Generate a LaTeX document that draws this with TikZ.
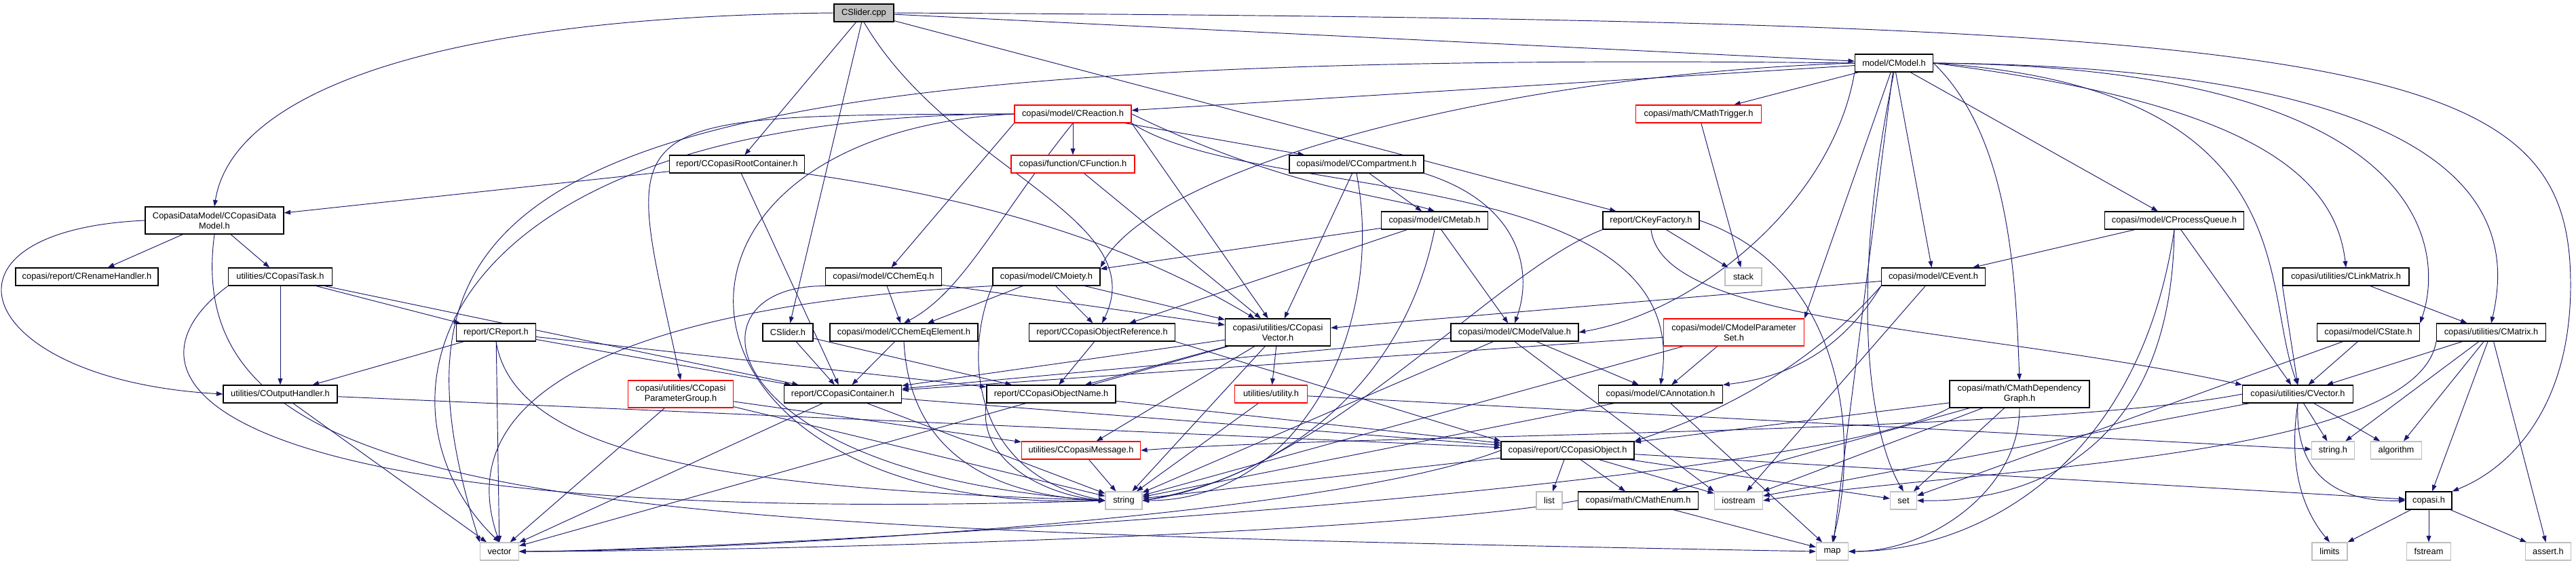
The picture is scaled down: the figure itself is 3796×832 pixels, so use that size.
\documentclass[tikz,border=0pt]{standalone}
\usepackage{fontspec}
\setmainfont{Liberation Sans}
\usepackage{tikz}
\usetikzlibrary{arrows.meta, backgrounds}
\definecolor{edgeBlue}{HTML}{191970}
\definecolor{sysGray}{HTML}{BFBFBF}
\newlength{\dpx}
\setlength{\dpx}{0.026cm}

\begin{document}
\begin{tikzpicture}[
        x=0.026cm, y=-0.026cm,
        hdr/.style={draw=black, fill=white, line width=0.9pt, inner sep=0pt, align=center,
            minimum height=26\dpx, font=\fontsize{9.5}{11}\selectfont},
        wd/.style={minimum width=#1\dpx},
        tall/.style={minimum height=40\dpx},
        sys/.style={draw=sysGray},
        trunc/.style={draw=red},
        src/.style={fill=sysGray},
        dep/.style={-{Triangle[length=7pt, width=5pt]}, edgeBlue, line width=0.7pt}
    ]
        \useasboundingbox (0,0) rectangle (3796,832);
        \node[hdr, src, wd=88] (cpp) at (1273,19) {CSlider.cpp};
        \node[hdr, wd=204, tall] (dm) at (316,325) {CopasiDataModel/CCopasiData\\Model.h};
        \node[hdr, wd=210] (rename) at (128,408) {copasi/report/CRenameHandler.h};
        \node[hdr, wd=153] (task) at (413,408) {utilities/CCopasiTask.h};
        \node[hdr, wd=117] (report) at (731,490) {report/CReport.h};
        \node[hdr, wd=168] (outh) at (413,581) {utilities/COutputHandler.h};
        \node[hdr, sys, wd=57] (vector) at (736,813) {vector};
        \node[hdr, wd=199] (root) at (1086,242) {report/CCopasiRootContainer.h};
        \node[hdr, trunc, wd=172] (reac) at (1581,168) {copasi/model/CReaction.h};
        \node[hdr, trunc, wd=182] (func) at (1581,242) {copasi/function/CFunction.h};
        \node[hdr, wd=171] (chemeq) at (1302,408) {copasi/model/CChemEq.h};
        \node[hdr, wd=158] (moiety) at (1542,408) {copasi/model/CMoiety.h};
        \node[hdr, wd=74] (sliderh) at (1161,490) {CSlider.h};
        \node[hdr, wd=218] (cee) at (1332,490) {copasi/model/CChemEqElement.h};
        \node[hdr, wd=215] (objref) at (1624,490) {report/CCopasiObjectReference.h};
        \node[hdr, wd=155, tall] (cvec) at (1883,490) {copasi/utilities/CCopasi\\Vector.h};
        \node[hdr, trunc, wd=155, tall] (pgroup) at (1003,581) {copasi/utilities/CCopasi\\ParameterGroup.h};
        \node[hdr, wd=173] (cont) at (1242,581) {report/CCopasiContainer.h};
        \node[hdr, wd=190] (oname) at (1549,581) {report/CCopasiObjectName.h};
        \node[hdr, trunc, wd=107] (util) at (1873,581) {utilities/utility.h};
        \node[hdr, trunc, wd=175] (msg) at (1593,664) {utilities/CCopasiMessage.h};
        \node[hdr, sys, wd=54] (string) at (1656,738) {string};
        \node[hdr, wd=115] (model) at (2791,93) {model/CModel.h};
        \node[hdr, trunc, wd=185] (trig) at (2503,168) {copasi/math/CMathTrigger.h};
        \node[hdr, wd=198] (comp) at (1999,242) {copasi/model/CCompartment.h};
        \node[hdr, wd=157] (metab) at (2114,325) {copasi/model/CMetab.h};
        \node[hdr, wd=142] (keyf) at (2433,325) {report/CKeyFactory.h};
        \node[hdr, sys, wd=54] (stack) at (2569,408) {stack};
        \node[hdr, wd=153] (event) at (2849,408) {copasi/model/CEvent.h};
        \node[hdr, wd=188] (mval) at (2232,490) {copasi/model/CModelValue.h};
        \node[hdr, trunc, wd=207, tall] (mpset) at (2555,490) {copasi/model/CModelParameter\\Set.h};
        \node[hdr, wd=183] (annot) at (2447,581) {copasi/model/CAnnotation.h};
        \node[hdr, wd=196] (cobj) at (2310,664) {copasi/report/CCopasiObject.h};
        \node[hdr, sys, wd=38] (list) at (2283,738) {list};
        \node[hdr, wd=177] (menum) at (2414,738) {copasi/math/CMathEnum.h};
        \node[hdr, sys, wd=71] (iostream) at (2562,738) {iostream};
        \node[hdr, sys, wd=39] (set) at (2805,738) {set};
        \node[hdr, sys, wd=47] (map) at (2700,813) {map};
        \node[hdr, wd=205] (pqueue) at (3204,325) {copasi/model/CProcessQueue.h};
        \node[hdr, wd=186] (linkm) at (3457,408) {copasi/utilities/CLinkMatrix.h};
        \node[hdr, wd=206, tall] (depg) at (2976,581) {copasi/math/CMathDependency\\Graph.h};
        \node[hdr, wd=151] (state) at (3490,490) {copasi/model/CState.h};
        \node[hdr, wd=161] (matrix) at (3671,490) {copasi/utilities/CMatrix.h};
        \node[hdr, wd=163] (cvector) at (3386,581) {copasi/utilities/CVector.h};
        \node[hdr, sys, wd=63] (stringh) at (3438,664) {string.h};
        \node[hdr, sys, wd=75] (algo) at (3531,664) {algorithm};
        \node[hdr, wd=68] (copasih) at (3579,738) {copasi.h};
        \node[hdr, sys, wd=52] (limits) at (3433,813) {limits};
        \node[hdr, sys, wd=65] (fstream) at (3579,813) {fstream};
        \node[hdr, sys, wd=67] (assert) at (3755,813) {assert.h};
        \coordinate (rbend) at (3788,420);

        \begin{scope}[on background layer]
        \fill[white] (0,0) rectangle (3796,832);
        \draw[dep] (cpp.west) .. controls (600,25) and (340,150) .. (dm.north);
        \draw[dep] (cpp) -- (root); \draw[dep] (cpp) -- (sliderh); \draw[dep] (cpp) -- (model); \draw[dep] (cpp) -- (keyf);
        \draw[dep] (cpp.south) .. controls (1400,250) and (1700,320) .. (objref.north);
        \draw[dep] (cpp.east) .. controls (3500,30) and (3788,80) .. (rbend) .. controls (3788,600) and (3700,690) .. (copasih.north east);

        \draw[dep] (dm) -- (rename); \draw[dep] (dm) -- (task);
        \draw[dep] (dm.west) .. controls (-120,340) and (-40,560) .. (outh.west);
        \draw[dep] (dm.south) .. controls (260,760) and (900,780) .. (map.west);
        \draw[dep] (root) -- (dm); \draw[dep] (root) -- (cont);
        \draw[dep] (root) .. controls (1500,300) and (1700,380) .. (cvec);

        \draw[dep] (task) -- (outh); \draw[dep] (task) -- (report); \draw[dep] (task) -- (cont);
        \draw[dep] (task.south west) .. controls (150,560) and (300,780) .. (string.west);
        \draw[dep] (report) -- (outh); \draw[dep] (report) -- (vector); \draw[dep] (report) -- (cont); \draw[dep] (report) -- (oname);
        \draw[dep] (report.south) .. controls (760,680) and (1100,720) .. (string.west);
        \draw[dep] (outh) -- (vector); \draw[dep] (outh) -- (cobj);

        \draw[dep] (reac.south west) -- (chemeq); \draw[dep] (reac) -- (func); \draw[dep] (reac.south east) -- (cvec); \draw[dep] (reac) -- (comp);
        \draw[dep] (reac.east) .. controls (1900,280) and (2050,290) .. (metab.north);
        \draw[dep] (reac.south east) .. controls (1850,300) and (2500,240) .. (annot.north);
        \draw[dep] (reac.south) .. controls (1470,320) and (1420,430) .. (cee.north);
        \draw[dep] (reac.west) .. controls (620,170) and (530,600) .. (vector.north);
        \draw[dep] (reac.west) .. controls (900,200) and (950,760) .. (string.west);
        \draw[dep] (reac.west) .. controls (880,170) and (920,170) .. (pgroup.north);
        \draw[dep] (func) -- (cvec);
        \draw[dep] (chemeq) -- (cee); \draw[dep] (chemeq) -- (cvec);
        \draw[dep] (chemeq.south west) .. controls (1000,420) and (1050,700) .. (string.west);
        \draw[dep] (moiety) -- (cee); \draw[dep] (moiety) -- (objref); \draw[dep] (moiety) -- (cvec);
        \draw[dep] (moiety.south west) .. controls (1420,520) and (1430,700) .. (string.west);
        \draw[dep] (moiety.south west) .. controls (1100,440) and (640,520) .. (vector.north);

        \draw[dep] (sliderh) -- (cont); \draw[dep] (sliderh) -- (oname);
        \draw[dep] (cee) -- (cont);
        \draw[dep] (cee.south) .. controls (1340,660) and (1450,730) .. (string.west);
        \draw[dep] (objref) -- (oname); \draw[dep] (objref.south east) -- (cobj.north west);
        \draw[dep] (cvec) -- (cont); \draw[dep] (cvec) -- (oname); \draw[dep] (cvec) -- (msg); \draw[dep] (cvec) -- (util);
        \draw[dep] (cvec) -- (string); \draw[dep] (cvec) -- (vector);
        \draw[dep] (util) -- (string); \draw[dep] (util) -- (stringh);
        \draw[dep] (pgroup) -- (vector); \draw[dep] (pgroup) -- (string); \draw[dep] (pgroup) -- (msg);
        \draw[dep] (cont) -- (vector); \draw[dep] (cont) -- (string); \draw[dep] (cont) -- (cobj);
        \draw[dep] (oname) -- (cobj);
        \draw[dep] (oname.south west) .. controls (1440,680) and (1540,730) .. (string.west);
        \draw[dep] (msg) -- (string);

        \draw[dep] (annot) -- (string); \draw[dep] (annot) -- (map);
        \draw[dep] (mval) -- (annot); \draw[dep] (mval) -- (string); \draw[dep] (mval.south) -- (iostream.north west); \draw[dep] (mval) -- (cont);
        \draw[dep] (mpset) -- (annot); \draw[dep] (mpset) -- (string); \draw[dep] (mpset) -- (cont);
        \draw[dep] (cobj) -- (list); \draw[dep] (cobj) -- (menum); \draw[dep] (cobj) -- (iostream); \draw[dep] (cobj) -- (set);
        \draw[dep] (cobj) -- (string); \draw[dep] (cobj) -- (copasih);
        \draw[dep] (cobj.west) .. controls (1947,766) and (1047,813) .. (vector.east);
        \draw[dep] (menum) -- (map);
        \draw[dep] (menum.west) .. controls (2026,791) and (1069,813) .. (vector.east);

        \draw[dep] (model) -- (reac); \draw[dep] (model) -- (trig); \draw[dep] (model) -- (event);
        \draw[dep] (model) -- (pqueue); \draw[dep] (model) -- (map); \draw[dep] (model) -- (mpset.north east);
        \draw[dep] (model.west) .. controls (2200,110) and (1700,250) .. (moiety.north east);
        \draw[dep] (model.south west) .. controls (2700,300) and (2500,460) .. (mval.east);
        \draw[dep] (model.east) .. controls (3300,150) and (3440,250) .. (linkm.north);
        \draw[dep] (model.east) .. controls (2960,200) and (2970,400) .. (depg.north);
        \draw[dep] (model.east) .. controls (3600,100) and (3600,380) .. (state.north east);
        \draw[dep] (model.east) .. controls (3700,100) and (3700,350) .. (matrix.north);
        \draw[dep] (model.east) .. controls (3400,130) and (3330,420) .. (cvector.north);
        \draw[dep] (model.south) .. controls (2720,450) and (2760,650) .. (set.north);
        \draw[dep] (model.west) .. controls (800,70) and (536,250) .. (vector.north west);
        \draw[dep] (trig) -- (stack);
        \draw[dep] (comp) -- (metab); \draw[dep] (comp) -- (cvec);
        \draw[dep] (comp.south east) .. controls (2240,300) and (2260,400) .. (mval.north);
        \draw[dep] (comp.south) .. controls (2043,484) and (1915,738) .. (string.east);
        \draw[dep] (metab) -- (moiety); \draw[dep] (metab) -- (objref); \draw[dep] (metab) -- (mval);
        \draw[dep] (metab.south) .. controls (2070,560) and (1900,700) .. (string.east);
        \draw[dep] (keyf) -- (stack);
        \draw[dep] (keyf.south west) .. controls (2200,400) and (1950,700) .. (string.east);
        \draw[dep] (keyf.east) .. controls (2720,400) and (2740,650) .. (map.north);
        \draw[dep] (keyf.south) .. controls (2450,480) and (2900,480) .. (cvector.north west);

        \draw[dep] (event) -- (cvec); \draw[dep] (event) -- (iostream);
        \draw[dep] (event.south west) .. controls (2700,540) and (2600,560) .. (annot.north east);
        \draw[dep] (event.south west) .. controls (2650,560) and (2500,620) .. (cobj.north east);
        \draw[dep] (pqueue) -- (event); \draw[dep] (pqueue) -- (cvector);
        \draw[dep] (pqueue.south) .. controls (3200,700) and (2950,740) .. (set.east);
        \draw[dep] (pqueue.south) .. controls (3150,700) and (2900,813) .. (map.east);
        \draw[dep] (linkm.south west) -- (cvector.north); \draw[dep] (linkm) -- (matrix);
        \draw[dep] (state) -- (cvector); \draw[dep] (state) -- (set);
        \draw[dep] (matrix) -- (cvector); \draw[dep] (matrix) -- (stringh); \draw[dep] (matrix) -- (algo);
        \draw[dep] (matrix) -- (copasih); \draw[dep] (matrix) -- (assert);
        \draw[dep] (matrix.south west) .. controls (3560,680) and (2900,690) .. (iostream.east);
        \draw[dep] (cvector) -- (stringh); \draw[dep] (cvector) -- (algo); \draw[dep] (cvector) -- (iostream);
        \draw[dep] (cvector.south) .. controls (3380,720) and (3470,740) .. (copasih.west);
        \draw[dep] (cvector.south) .. controls (3370,700) and (3400,760) .. (limits.north);
        \draw[dep] (cvector.west) .. controls (3000,640) and (2000,640) .. (msg.east);
        \draw[dep] (depg) -- (cobj); \draw[dep] (depg) -- (menum); \draw[dep] (depg) -- (set); \draw[dep] (depg) -- (iostream);
        \draw[dep] (depg.south) .. controls (2976,722) and (2845,813) .. (map.east);
        \draw[dep] (depg.south west) .. controls (2645,727) and (1028,813) .. (vector.east);
        \draw[dep] (copasih) -- (limits); \draw[dep] (copasih) -- (fstream); \draw[dep] (copasih) -- (assert);
        \end{scope}
    \end{tikzpicture}
\end{document}
